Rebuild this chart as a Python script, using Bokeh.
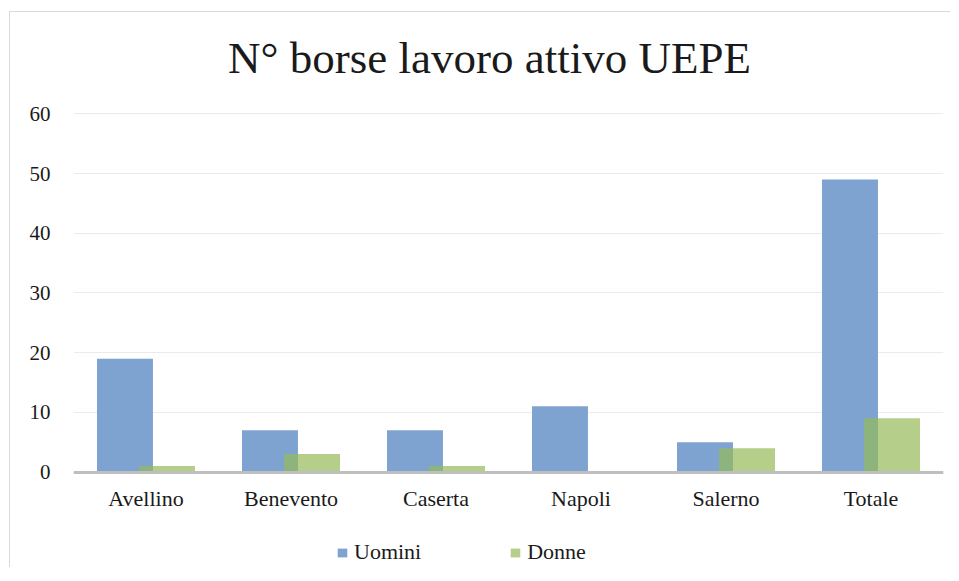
from bokeh.plotting import figure
from bokeh.models import ColumnDataSource, Legend, LegendItem, FactorRange, Label
from bokeh.transform import dodge
from bokeh.embed import file_html
from bokeh.resources import INLINE

categories = ["Avellino", "Benevento", "Caserta", "Napoli", "Salerno", "Totale"]
uomini = [19, 7, 7, 11, 5, 49]
donne = [1, 3, 1, 0, 4, 9]
y_ticks = [0, 10, 20, 30, 40, 50, 60]
title_text = "N° borse lavoro attivo UEPE"

src = ColumnDataSource(dict(cat=categories, uomini=uomini, donne=donne))

FONT = "Liberation Serif"

# frame extended above and below the value range so that title and legend sit inside it
p = figure(x_range=FactorRange(*categories, range_padding=0), y_range=(-16, 77),
           frame_width=870, frame_height=555,
           min_border_left=63, min_border_right=7, min_border_top=0, min_border_bottom=0,
           output_backend="svg", toolbar_location=None)
p.styles = {"margin-left": "9px", "margin-top": "11px",
            "border-top": "1px solid #D9D9D9", "border-left": "1px solid #D9D9D9"}

title = Label(x=3, y=69.3, x_offset=-19, text=title_text, text_font=FONT,
              text_font_size="45px", text_color="#1a1a1a", text_align="center",
              text_baseline="alphabetic")
p.add_layout(title)

r1 = p.vbar(x=dodge("cat", -0.145, range=p.x_range), top="uomini", width=0.386, source=src,
            fill_color="#7EA3D0", line_color=None)
r2 = p.vbar(x=dodge("cat", 0.145, range=p.x_range), top="donne", width=0.386, source=src,
            fill_color="#96BA5A", fill_alpha=0.7, line_color=None)

p.outline_line_color = None
p.background_fill_color = "white"
p.border_fill_color = "white"

p.xgrid.grid_line_color = None
p.ygrid.grid_line_color = "#EBEBEB"
p.ygrid.grid_line_width = 1

p.yaxis.ticker = y_ticks
p.yaxis.axis_line_color = None
p.yaxis.major_tick_line_color = None
p.yaxis.minor_tick_line_color = None
p.yaxis.major_tick_out = 0
p.yaxis.major_label_standoff = 23
p.yaxis.major_label_text_font = FONT
p.yaxis.major_label_text_font_size = "21px"
p.yaxis.major_label_text_color = "#1a1a1a"

p.xaxis.fixed_location = 0
p.xaxis.axis_line_color = "#BFBFBF"
p.xaxis.axis_line_width = 3
p.xaxis.major_tick_line_color = None
p.xaxis.minor_tick_line_color = None
p.xaxis.major_tick_out = 0
p.xaxis.major_label_standoff = 14
p.xaxis.major_label_text_font = FONT
p.xaxis.major_label_text_font_size = "22px"
p.xaxis.major_label_text_color = "#1a1a1a"

legend = Legend(items=[LegendItem(label="Uomini", renderers=[r1]),
                       LegendItem(label="Donne", renderers=[r2])],
                orientation="horizontal", location=(263, 2),
                label_text_font=FONT, label_text_font_size="22px",
                label_text_color="#1a1a1a")
legend.glyph_width = 12
legend.glyph_height = 11
legend.label_standoff = 6
legend.spacing = 88
legend.padding = 0
legend.margin = 0
legend.border_line_color = None
legend.background_fill_alpha = 0
p.add_layout(legend, "center")

open("out.html", "w").write(file_html(p, INLINE))
